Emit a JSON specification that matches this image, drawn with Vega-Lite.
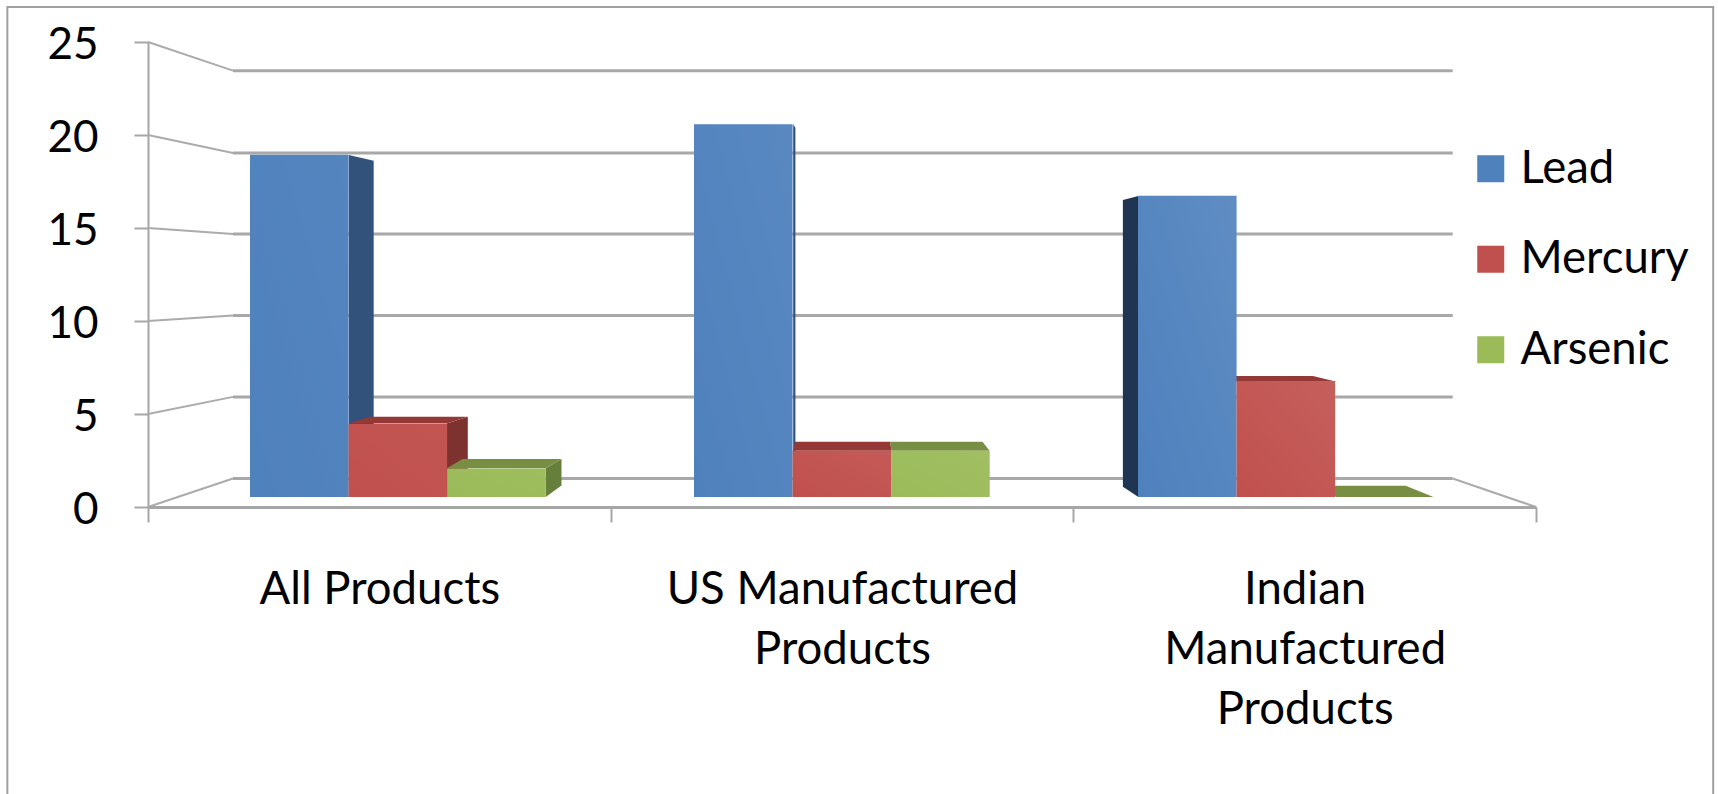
{
  "$schema": "https://vega.github.io/schema/vega-lite/v6.json",
  "width": 1388,
  "height": 465,
  "autosize": {"type": "none"},
  "padding": {"left": 148, "top": 42, "right": 182, "bottom": 287},
  "background": "white",
  "config": {
    "font": "Lato",
    "view": {"stroke": null},
    "axis": {"grid": false}
  },
  "datasets": {
    "levels": [
      {"category": "All Products", "metal": "Lead", "percent": 19.2},
      {"category": "All Products", "metal": "Mercury", "percent": 4.1},
      {"category": "All Products", "metal": "Arsenic", "percent": 1.6},
      {"category": "US Manufactured Products", "metal": "Lead", "percent": 20.9},
      {"category": "US Manufactured Products", "metal": "Mercury", "percent": 2.6},
      {"category": "US Manufactured Products", "metal": "Arsenic", "percent": 2.6},
      {"category": "Indian Manufactured Products", "metal": "Lead", "percent": 16.9},
      {"category": "Indian Manufactured Products", "metal": "Mercury", "percent": 6.5},
      {"category": "Indian Manufactured Products", "metal": "Arsenic", "percent": 0}
    ],
    "gridlines": [
      {"level": 0, "wall": 1.53},
      {"level": 5, "wall": 5.92},
      {"level": 10, "wall": 10.3},
      {"level": 15, "wall": 14.68},
      {"level": 20, "wall": 19.03},
      {"level": 25, "wall": 23.46}
    ],
    "sideFaces": [
      {"face": "all-lead", "tone": "Lead side", "u": 0.434, "top": 18.92, "bottom": 0.54},
      {"face": "all-lead", "tone": "Lead side", "u": 0.4878, "top": 18.61, "bottom": 0.97},
      {"face": "all-mercury", "tone": "Mercury side", "u": 0.6458, "top": 4.49, "bottom": 0.54},
      {"face": "all-mercury", "tone": "Mercury side", "u": 0.6912, "top": 4.85, "bottom": 0.97},
      {"face": "all-arsenic", "tone": "Arsenic side", "u": 0.8596, "top": 2.08, "bottom": 0.54},
      {"face": "all-arsenic", "tone": "Arsenic side", "u": 0.8937, "top": 2.58, "bottom": 1.16},
      {"face": "us-lead", "tone": "Lead side", "u": 1.3945, "top": 20.59, "bottom": 0.54},
      {"face": "us-lead", "tone": "Lead side", "u": 1.3993, "top": 20.38, "bottom": 0.97},
      {"face": "indian-lead", "tone": "Lead far side", "u": 2.1071, "top": 16.51, "bottom": 1.09},
      {"face": "indian-lead", "tone": "Lead far side", "u": 2.1406, "top": 16.72, "bottom": 0.54}
    ],
    "topFaces": [
      {"face": "all-mercury", "tone": "Mercury top", "v": 4.49, "left": 0.434, "right": 0.6458},
      {"face": "all-mercury", "tone": "Mercury top", "v": 4.85, "left": 0.4792, "right": 0.6912},
      {"face": "all-arsenic", "tone": "Arsenic top", "v": 2.08, "left": 0.6458, "right": 0.8596},
      {"face": "all-arsenic", "tone": "Arsenic top", "v": 2.58, "left": 0.68, "right": 0.8937},
      {"face": "us-mercury", "tone": "Mercury top", "v": 3.03, "left": 1.3945, "right": 1.6076},
      {"face": "us-mercury", "tone": "Mercury top", "v": 3.51, "left": 1.3984, "right": 1.6035},
      {"face": "us-arsenic", "tone": "Arsenic top", "v": 3.03, "left": 1.6076, "right": 1.8189},
      {"face": "us-arsenic", "tone": "Arsenic top", "v": 3.51, "left": 1.6035, "right": 1.8037},
      {"face": "indian-mercury", "tone": "Mercury top", "v": 6.74, "left": 2.3544, "right": 2.569},
      {"face": "indian-mercury", "tone": "Mercury top", "v": 7.04, "left": 2.306, "right": 2.5179},
      {"face": "indian-arsenic", "tone": "Arsenic top", "v": 0.54, "left": 2.569, "right": 2.7785},
      {"face": "indian-arsenic", "tone": "Arsenic top", "v": 1.145, "left": 2.5072, "right": 2.7183}
    ]
  },
  "resolve": {"scale": {"x": "independent", "y": "independent", "color": "independent"}, "axis": {"x": "independent", "y": "independent"}},
  "layer": [
    {
      "layer": [
        {
          "data": {"values": [{"u0": -0.304, "u1": 3.383, "v0": 26.88, "v1": -16}]},
          "mark": {"type": "rect", "fill": null, "stroke": "#a0a0a0", "strokeWidth": 2, "clip": false},
          "encoding": {
            "x": {"field": "u0", "type": "quantitative", "scale": {"domain": [0, 3], "nice": false, "zero": false}, "axis": null},
            "x2": {"field": "u1"},
            "y": {
              "field": "v0",
              "type": "quantitative",
              "scale": {"domain": [0, 25], "nice": false},
              "axis": {
                "values": [0, 5, 10, 15, 20, 25],
                "title": null,
                "domainColor": "#a6a6a6",
                "domainWidth": 2,
                "tickColor": "#a6a6a6",
                "tickWidth": 2,
                "tickSize": 14,
                "labelFontSize": 44,
                "labelColor": "#000000",
                "labelPadding": 36,
                "labelOffset": 3,
                "labelFlush": false,
                "labelOverlap": false
              }
            },
            "y2": {"field": "v1"}
          }
        },
        {
          "data": {"name": "gridlines"},
          "mark": {"type": "rule", "stroke": "#ababab", "strokeWidth": 2},
          "encoding": {
            "x": {"datum": 0, "type": "quantitative"},
            "x2": {"datum": 0.1837},
            "y": {"field": "level", "type": "quantitative"},
            "y2": {"field": "wall"}
          }
        },
        {
          "data": {"name": "gridlines"},
          "mark": {"type": "rule", "stroke": "#a8a8a8", "strokeWidth": 3},
          "encoding": {
            "x": {"datum": 0.1837, "type": "quantitative"},
            "x2": {"datum": 2.82},
            "y": {"field": "wall", "type": "quantitative"}
          }
        },
        {
          "data": {"values": [{"u0": 2.82, "u1": 3, "v0": 1.53, "v1": 0}]},
          "mark": {"type": "rule", "stroke": "#ababab", "strokeWidth": 2},
          "encoding": {
            "x": {"field": "u0", "type": "quantitative"},
            "x2": {"field": "u1"},
            "y": {"field": "v0", "type": "quantitative"},
            "y2": {"field": "v1"}
          }
        },
        {
          "data": {"name": "sideFaces"},
          "mark": {"type": "area", "orient": "vertical", "line": false},
          "encoding": {
            "x": {"field": "u", "type": "quantitative"},
            "y": {"field": "top", "type": "quantitative"},
            "y2": {"field": "bottom"},
            "detail": {"field": "face"},
            "color": {
              "field": "tone",
              "type": "nominal",
              "legend": null,
              "scale": {
                "domain": ["Lead side", "Lead far side", "Mercury side", "Mercury top", "Arsenic side", "Arsenic top"],
                "range": ["#32527b", "#1f3552", "#7d3230", "#953937", "#667f3a", "#788f43"]
              }
            }
          }
        },
        {
          "data": {"name": "topFaces"},
          "mark": {"type": "area", "orient": "horizontal", "line": false},
          "encoding": {
            "y": {"field": "v", "type": "quantitative"},
            "x": {"field": "left", "type": "quantitative"},
            "x2": {"field": "right"},
            "detail": {"field": "face"},
            "color": {"field": "tone", "type": "nominal", "legend": null}
          }
        }
      ]
    },
    {
      "data": {"name": "levels"},
      "mark": {"type": "rect", "opacity": 0},
      "encoding": {
        "x": {
          "field": "category",
          "type": "nominal",
          "sort": null,
          "scale": {"paddingInner": 0, "paddingOuter": 0},
          "axis": {
            "orient": "bottom",
            "title": null,
            "labelAngle": 0,
            "labelAlign": "center",
            "labelBaseline": "alphabetic",
            "labelFontSize": 45.5,
            "labelColor": "#000000",
            "labelLineHeight": 60,
            "labelPadding": 81,
            "labelLimit": 0,
            "labelOverlap": false,
            "labelExpr": "datum.label == 'US Manufactured Products' ? ['US Manufactured', 'Products'] : datum.label == 'Indian Manufactured Products' ? ['Indian', 'Manufactured', 'Products'] : datum.label",
            "tickBand": "extent",
            "tickSize": 15,
            "tickWidth": 2,
            "tickColor": "#a6a6a6",
            "domainColor": "#a6a6a6",
            "domainWidth": 3
          }
        }
      }
    },
    {
      "data": {"name": "levels"},
      "layer": [
        {
          "mark": {"type": "bar"},
          "encoding": {
            "x": {
              "field": "category",
              "type": "nominal",
              "sort": null,
              "axis": null,
              "scale": {"range": [27.85, 1359.85], "paddingInner": 0.334, "paddingOuter": 0.167}
            },
            "xOffset": {
              "field": "metal",
              "type": "nominal",
              "scale": {"domain": ["Lead", "Mercury", "Arsenic"], "paddingInner": 0, "paddingOuter": 0}
            },
            "y": {
              "field": "percent",
              "type": "quantitative",
              "axis": null,
              "scale": {"domain": [0, 25], "range": [455, 9.25], "nice": false}
            },
            "color": {
              "field": "metal",
              "type": "nominal",
              "scale": {"domain": ["Lead", "Mercury", "Arsenic"], "range": ["#4f81bd", "#c0504d", "#9bbb59"]},
              "legend": {
                "orient": "none",
                "legendX": 1320,
                "legendY": 104,
                "title": null,
                "symbolType": "square",
                "symbolSize": 729,
                "symbolStrokeWidth": 0,
                "labelFontSize": 45.5,
                "labelColor": "#000000",
                "labelOffset": 7,
                "labelLimit": 300,
                "rowPadding": 43.5
              }
            }
          }
        },
        {
          "mark": {
            "type": "bar",
            "fill": {
              "x1": 1, "y1": 0, "x2": 0, "y2": 1,
              "gradient": "linear",
              "stops": [
                {"offset": 0, "color": "#ffffff"},
                {"offset": 1, "color": "#ffffff00"}
              ]
            }
          },
          "encoding": {
            "x": {"field": "category", "type": "nominal", "sort": null, "axis": null},
            "xOffset": {"field": "metal", "type": "nominal"},
            "y": {"field": "percent", "type": "quantitative", "axis": null},
            "opacity": {
              "field": "category",
              "type": "nominal",
              "legend": null,
              "scale": {
                "domain": ["All Products", "US Manufactured Products", "Indian Manufactured Products"],
                "range": [0.03, 0.09, 0.16]
              }
            }
          }
        }
      ]
    }
  ]
}
